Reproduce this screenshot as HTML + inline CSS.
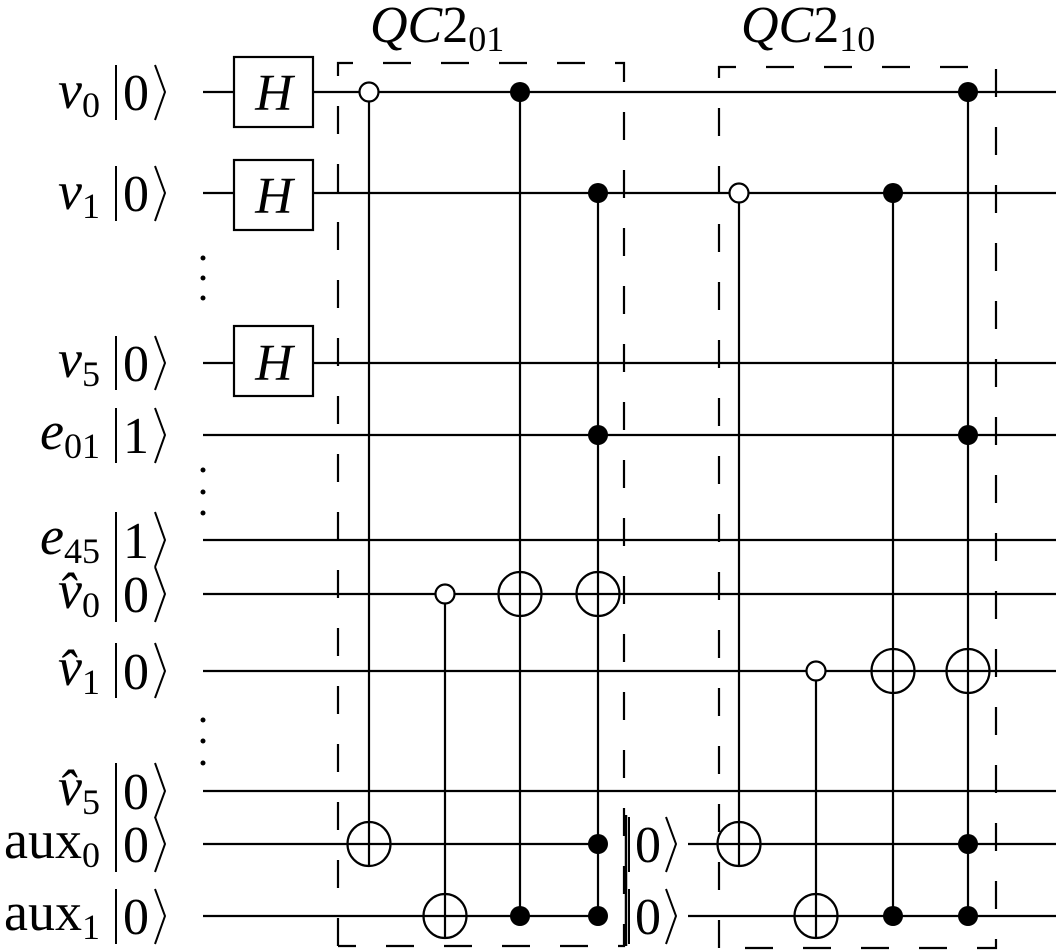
<!DOCTYPE html>
<html><head><meta charset="utf-8"><style>
html,body{margin:0;padding:0;background:#fff;width:1056px;height:951px;overflow:hidden}
text{font-family:"Liberation Serif","DejaVu Serif",serif;fill:#000}
</style></head><body>
<svg width="1056" height="951" viewBox="0 0 1056 951" xmlns="http://www.w3.org/2000/svg">
<g stroke="#000" stroke-width="2.2" fill="none">
<line x1="203" y1="92" x2="1056" y2="92"/>
<line x1="203" y1="193" x2="1056" y2="193"/>
<line x1="203" y1="363" x2="1056" y2="363"/>
<line x1="203" y1="435" x2="1056" y2="435"/>
<line x1="203" y1="540" x2="1056" y2="540"/>
<line x1="203" y1="594" x2="1056" y2="594"/>
<line x1="203" y1="671" x2="1056" y2="671"/>
<line x1="203" y1="791" x2="1056" y2="791"/>
<line x1="203" y1="844" x2="598" y2="844"/>
<line x1="688" y1="844" x2="1056" y2="844"/>
<line x1="203" y1="916" x2="598" y2="916"/>
<line x1="688" y1="916" x2="1056" y2="916"/>
<rect x="234" y="57" width="79" height="70" fill="#fff"/>
<rect x="234" y="160" width="79" height="70" fill="#fff"/>
<rect x="234" y="326" width="79" height="70" fill="#fff"/>
<g stroke-dasharray="28 30">
<path d="M338 946 V63 H624 V946 H338"/>
<path d="M719 948 V67 H996 V948 H719"/>
</g>
<line x1="626" y1="815" x2="626" y2="946" stroke-width="2.5"/>
<line x1="369" y1="101" x2="369" y2="866"/>
<line x1="445" y1="603" x2="445" y2="938"/>
<line x1="520" y1="92" x2="520" y2="916"/>
<line x1="598" y1="193" x2="598" y2="916"/>
<line x1="739" y1="202" x2="739" y2="866"/>
<line x1="816" y1="680" x2="816" y2="938"/>
<line x1="893" y1="193" x2="893" y2="916"/>
<line x1="968" y1="92" x2="968" y2="916"/>
<g fill="#fff">
<circle cx="369" cy="92" r="9.5"/>
<circle cx="445" cy="594" r="9.5"/>
<circle cx="739" cy="193" r="9.5"/>
<circle cx="816" cy="671" r="9.5"/>
</g>
<g fill="none">
<ellipse cx="369" cy="844" rx="21.5" ry="22"/>
<ellipse cx="445" cy="916" rx="21.5" ry="22"/>
<ellipse cx="520" cy="594" rx="21.5" ry="22"/>
<ellipse cx="598" cy="594" rx="21.5" ry="22"/>
<ellipse cx="739" cy="844" rx="21.5" ry="22"/>
<ellipse cx="816" cy="916" rx="21.5" ry="22"/>
<ellipse cx="893" cy="671" rx="21.5" ry="22"/>
<ellipse cx="968" cy="671" rx="21.5" ry="22"/>
</g>
<g stroke-width="2">
<path d="M116 65V120M155 65L165 92L155 120"/>
<path d="M116 166V221M155 166L165 193L155 221"/>
<path d="M116 336V390M155 336L165 363L155 390"/>
<path d="M116 408V463M155 408L165 435L155 463"/>
<path d="M116 512V567M155 512L165 540L155 567"/>
<path d="M116 567V622M155 567L165 594L155 622"/>
<path d="M116 643V698M155 643L165 671L155 698"/>
<path d="M116 763V818M155 763L165 791L155 818"/>
<path d="M116 817V872M155 817L165 844L155 872"/>
<path d="M116 889V944M155 889L165 916L155 944"/>
<path d="M629 817V872M666 817L676 844L666 872"/>
<path d="M629 889V944M666 889L676 916L666 944"/>
</g>
</g>
<g fill="#000">
<circle cx="520" cy="92" r="10"/>
<circle cx="598" cy="193" r="10"/>
<circle cx="598" cy="435" r="10"/>
<circle cx="598" cy="844" r="10"/>
<circle cx="598" cy="916" r="10"/>
<circle cx="520" cy="916" r="10"/>
<circle cx="893" cy="193" r="10"/>
<circle cx="893" cy="916" r="10"/>
<circle cx="968" cy="92" r="10"/>
<circle cx="968" cy="435" r="10"/>
<circle cx="968" cy="844" r="10"/>
<circle cx="968" cy="916" r="10"/>
<circle cx="203" cy="258" r="2.5"/><circle cx="203" cy="278" r="2.5"/><circle cx="203" cy="298" r="2.5"/>
<circle cx="203" cy="470" r="2.5"/><circle cx="203" cy="492" r="2.5"/><circle cx="203" cy="513" r="2.5"/>
<circle cx="203" cy="720" r="2.5"/><circle cx="203" cy="741" r="2.5"/><circle cx="203" cy="763" r="2.5"/>
</g>
<g font-size="52" font-style="italic" text-anchor="middle">
<text x="274" y="110">H</text>
<text x="274" y="213">H</text>
<text x="274" y="380">H</text>
</g>
<g font-size="52" text-anchor="middle">
<text x="136" y="110">0</text>
<text x="136" y="211">0</text>
<text x="136" y="381">0</text>
<text x="136" y="453">1</text>
<text x="136" y="558">1</text>
<text x="136" y="612">0</text>
<text x="136" y="689">0</text>
<text x="136" y="809">0</text>
<text x="136" y="862">0</text>
<text x="136" y="934">0</text>
<text x="648" y="862">0</text>
<text x="648" y="934">0</text>
</g>
<g font-size="54" text-anchor="end">
<text x="100" y="108"><tspan font-style="italic">v</tspan><tspan font-size="36" dy="9">0</tspan></text>
<text x="100" y="209"><tspan font-style="italic">v</tspan><tspan font-size="36" dy="9">1</tspan></text>
<text x="100" y="377"><tspan font-style="italic">v</tspan><tspan font-size="36" dy="9">5</tspan></text>
<text x="100" y="449"><tspan font-style="italic">e</tspan><tspan font-size="36" dy="9">01</tspan></text>
<text x="100" y="554"><tspan font-style="italic">e</tspan><tspan font-size="36" dy="9">45</tspan></text>
<text x="100" y="608"><tspan font-style="italic">v̂</tspan><tspan font-size="36" dy="9">0</tspan></text>
<text x="100" y="685"><tspan font-style="italic">v̂</tspan><tspan font-size="36" dy="9">1</tspan></text>
<text x="100" y="805"><tspan font-style="italic">v̂</tspan><tspan font-size="36" dy="9">5</tspan></text>
<text x="100" y="858">aux<tspan font-size="36" dy="9">0</tspan></text>
<text x="100" y="930">aux<tspan font-size="36" dy="9">1</tspan></text>
</g>
<g font-size="52">
<text x="370" y="42"><tspan font-style="italic">QC</tspan>2<tspan font-size="36" dy="9">01</tspan></text>
<text x="741" y="42"><tspan font-style="italic">QC</tspan>2<tspan font-size="36" dy="9">10</tspan></text>
</g>
</svg>
</body></html>
